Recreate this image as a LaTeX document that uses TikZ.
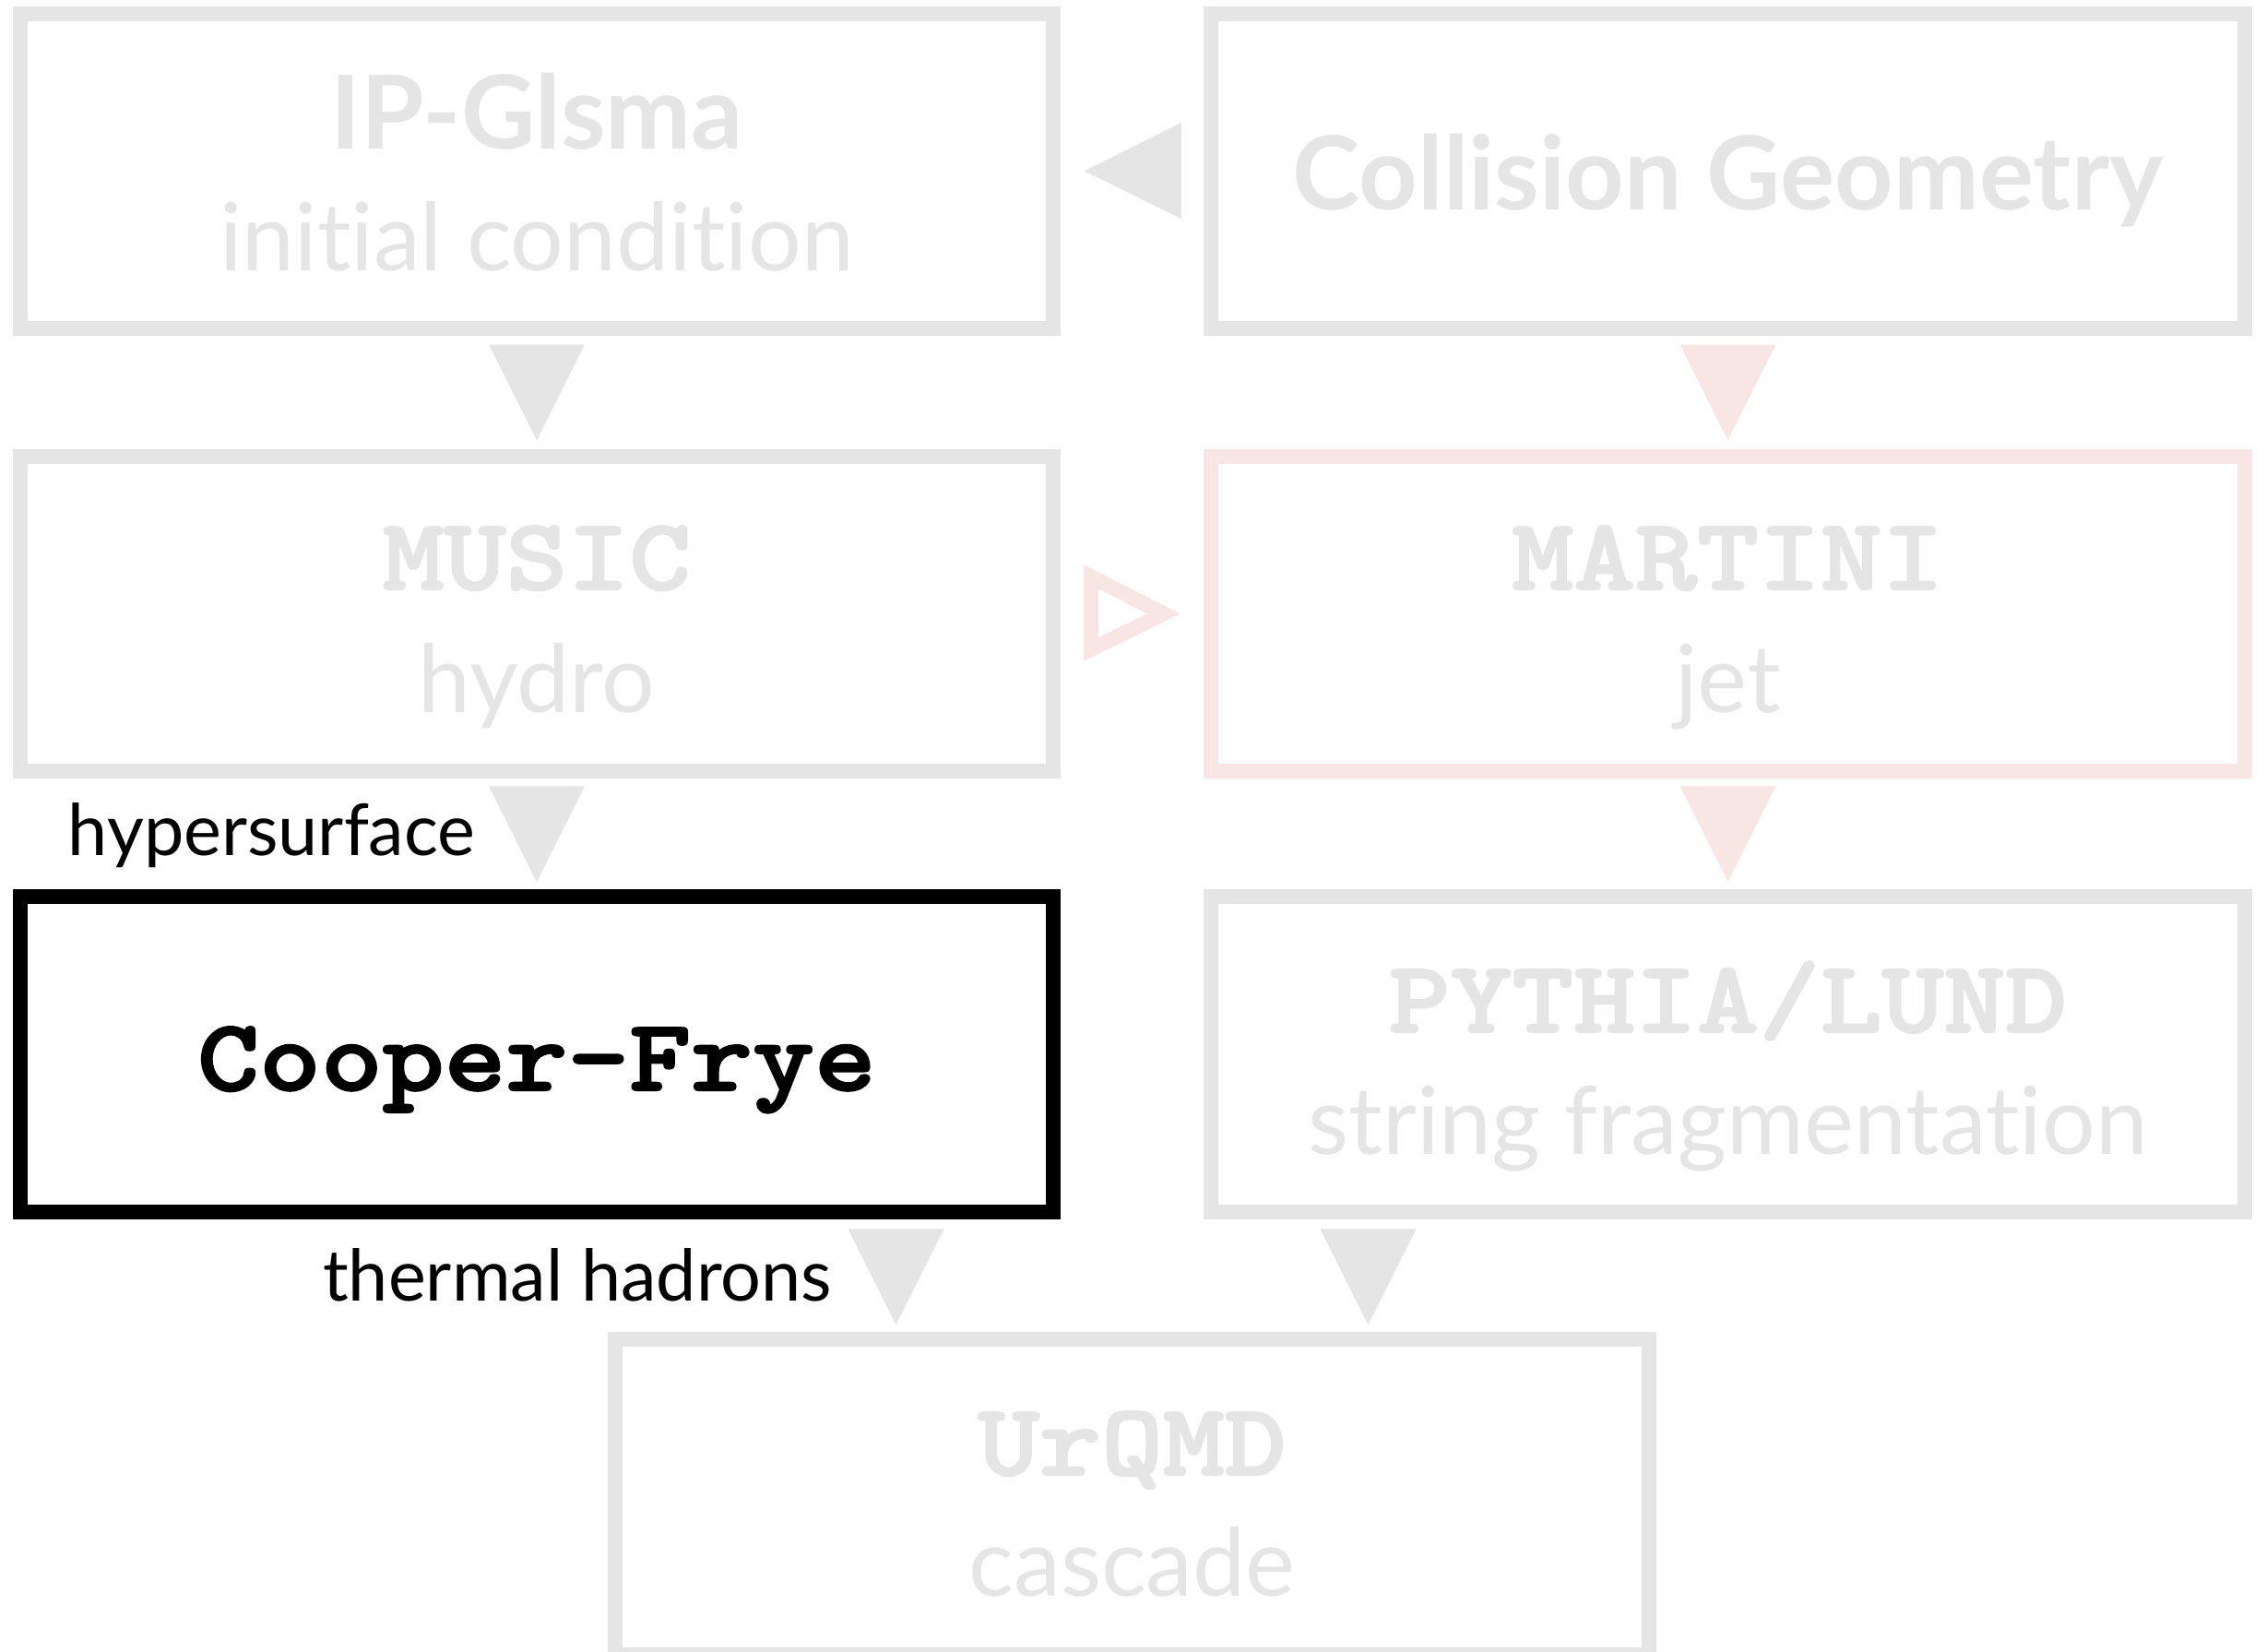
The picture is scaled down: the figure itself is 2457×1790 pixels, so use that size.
\documentclass[tikz,border=0pt]{standalone}
\usepackage{fontspec}
\setmainfont{Lato}[Ligatures=NoCommon]
\newfontfamily\codefont{lmmonolt10-bold.otf}[FakeStretch=1.15,FakeBold=2]
\usetikzlibrary{calc}

\definecolor{fadegrey}{RGB}{229,229,229}
\definecolor{fadepink}{RGB}{248,230,228}

% big triangle marker pointing down, centred on #2
\newcommand{\downmark}[2]{\fill[#1] ($(#2)+(-52,52)$) -- ($(#2)+(52,52)$) -- ($(#2)+(0,-52)$) -- cycle;}

\begin{document}
\begin{tikzpicture}[x=0.01cm,y=0.01cm,
    stage/.style={draw=fadegrey, line width=0.16cm, minimum width=11.2cm, minimum height=3.41cm},
    sanshead/.style={anchor=base, inner sep=0, text=fadegrey, font=\fontsize{31.5}{37}\selectfont\bfseries},
    sansline/.style={anchor=base, inner sep=0, text=fadegrey, font=\fontsize{29}{35}\selectfont},
    codehead/.style={anchor=base, inner sep=0, text=fadegrey, font=\fontsize{31.5}{38}\selectfont\codefont},
    flowtag/.style={anchor=base east, inner sep=0, font=\fontsize{22}{27}\selectfont}]
\useasboundingbox (0,0) rectangle (2457,-1790);

% the stages
\node[stage] (ip) at (582,-185.5) {};
\node[stage] (geo) at (1873.5,-185.5) {};
\node[stage] (music) at (582,-665.5) {};
\node[stage,draw=fadepink] (martini) at (1873.5,-665.5) {};
\node[stage,draw=black] (cf) at (582,-1143) {};
\node[stage] (pythia) at (1873.5,-1143) {};
\node[stage] (urqmd) at (1227.5,-1623) {};

\node[sanshead] (iphead) at (582,-161) {IP-Glsma};
\node[sansline] (ipline) at (582,-293) {initial condition};
\node[sanshead] (geohead) at (1873.5,-227) {Collision Geometry};
\node[codehead] (musichead) at (582,-639) {MUSIC};
\node[sansline] (musicline) at (582,-772) {hydro};
\node[codehead] (martinihead) at (1873.5,-639) {MARTINI};
\node[sansline] (martiniline) at (1873.5,-772) {jet};
\node[codehead,text=black] (cfhead) at (582,-1182) {Cooper-Frye};
\node[codehead] (pythiahead) at (1873.5,-1119) {PYTHIA/LUND};
\node[sansline] (pythialine) at (1873.5,-1251) {string fragmentation};
\node[codehead] (urqmdhead) at (1227.5,-1599) {UrQMD};
\node[sansline] (urqmdline) at (1227.5,-1730) {cascade};

\node[flowtag] (hyper) at (516,-927) {hypersurface};
\node[flowtag] (thermal) at (903,-1410) {thermal hadrons};

% markers between the stages
\coordinate (geoip) at ($(ip.east)!0.5!(geo.west)$);
\coordinate (ipmusic) at ($(ip.south)!0.5!(music.north)$);
\coordinate (geomartini) at ($(geo.south)!0.5!(martini.north)$);
\coordinate (musicmartini) at ($(music.east)!0.5!(martini.west)$);
\coordinate (musiccf) at ($(music.south)!0.5!(cf.north)$);
\coordinate (martinipythia) at ($(martini.south)!0.5!(pythia.north)$);
\coordinate (cfurqmd) at ($(urqmd.north)+(-256,60)$);
\coordinate (pythiaurqmd) at ($(urqmd.north)+(256,60)$);

\fill[fadegrey] ($(geoip)+(53,52.5)$) -- ($(geoip)+(53,-51.5)$) -- ($(geoip)+(-52,0)$) -- cycle;
\fill[fadepink,even odd rule] ($(musicmartini)+(-53,53.5)$) -- ($(musicmartini)+(-53,-51.5)$) -- ($(musicmartini)+(52,0)$) -- cycle
  ($(musicmartini)+(-37,27.5)$) -- ($(musicmartini)+(-37,-25.5)$) -- ($(musicmartini)+(16,0)$) -- cycle;
\downmark{fadegrey}{ipmusic}
\downmark{fadepink}{geomartini}
\downmark{fadegrey}{musiccf}
\downmark{fadepink}{martinipythia}
\downmark{fadegrey}{cfurqmd}
\downmark{fadegrey}{pythiaurqmd}
\end{tikzpicture}
\end{document}
